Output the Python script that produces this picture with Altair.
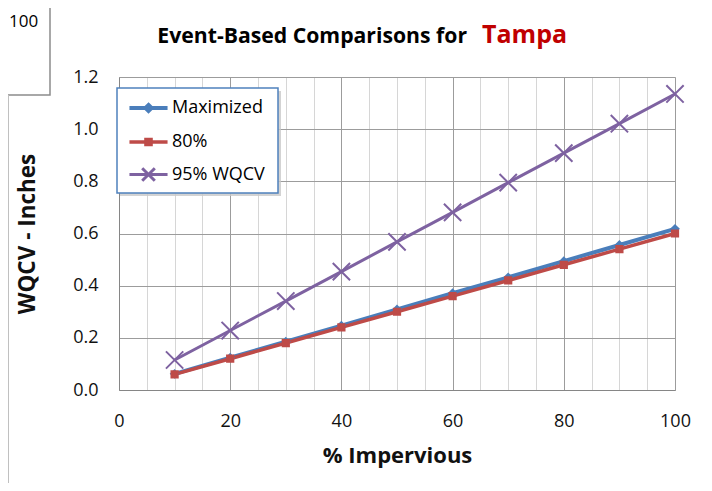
import altair as alt
import pandas as pd

# ---- data ----
pct_impervious = [10, 20, 30, 40, 50, 60, 70, 80, 90, 100]
maximized = [0.062, 0.124, 0.185, 0.247, 0.309, 0.371, 0.432, 0.494, 0.556, 0.618]
pct80 = [0.060, 0.120, 0.180, 0.240, 0.300, 0.360, 0.420, 0.480, 0.540, 0.600]
wqcv95 = [0.115, 0.228, 0.341, 0.454, 0.568, 0.681, 0.795, 0.908, 1.021, 1.135]

series_names = ["Maximized", "80%", "95% WQCV"]
series_colors = ["#4A7EBB", "#BE4B48", "#7E62A1"]
series_widths = [4, 3, 3]
x_grid_values = list(range(0, 101, 5))
y_ticks = [0.0, 0.2, 0.4, 0.6, 0.8, 1.0, 1.2]

FONT = "Open Sans"

rows = []
for name, vals in zip(series_names, [maximized, pct80, wqcv95]):
    for xv, yv in zip(pct_impervious, vals):
        rows.append({"series": name, "x": xv, "y": yv})
df = pd.DataFrame(rows)
one = pd.DataFrame({"k": [0]})

# marker paths (plot) and legend symbol paths (line + marker)
plot_shapes = [
    "M0,-0.4L0.4,0L0,0.4L-0.4,0Z",
    "M-0.36,-0.36H0.36V0.36H-0.36Z",
    "M-1,-1L1,1M-1,1L1,-1",
]
legend_shapes = [
    "M-1.27,0H1.27M0,-0.2L0.2,0L0,0.2L-0.2,0Z",
    "M-1.27,0H1.27M-0.17,-0.17H0.17V0.17H-0.17Z",
    "M-1.27,0H1.27M-0.42,-0.42L0.42,0.42M-0.42,0.42L0.42,-0.42",
]

x_scale = alt.Scale(domain=[0, 100], nice=False)
y_scale = alt.Scale(domain=[0, 1.2], nice=False)
color_scale = alt.Scale(domain=series_names, range=series_colors)

x_axis = alt.Axis(
    values=x_grid_values,
    labelExpr="datum.value % 20 === 0 ? datum.label : ''",
    title="% Impervious",
    titleFont=FONT, titleFontSize=22, titleFontWeight="bold", titleColor="#111",
    titleY=72, titleBaseline="alphabetic",
    labelFont=FONT, labelFontSize=18, labelColor="#111", labelPadding=22,
    ticks=False, tickSize=0,
    domainColor="#868686", domainWidth=1,
    grid=True,
    gridColor={"condition": {"test": "datum.value % 20 === 0", "value": "#9c9c9c"}, "value": "#d6d6d6"},
    gridWidth=1,
    labelFlush=False,
)
y_axis = alt.Axis(
    values=y_ticks, format=".1f",
    title="WQCV - Inches",
    titleFont=FONT, titleFontSize=22.5, titleFontWeight="bold", titleColor="#111",
    titleX=-92, titleY=156.5, titleAngle=-90, titleAlign="center", titleBaseline="middle",
    labelFont=FONT, labelFontSize=18, labelColor="#111", labelPadding=21,
    ticks=False, tickSize=0,
    domainColor="#868686", domainWidth=1,
    grid=True, gridColor="#9c9c9c", gridWidth=1,
)

legend_def = alt.Legend(
    title=None, orient="none", legendX=12.5, legendY=14,
    padding=0, rowPadding=6, symbolSize=900, labelOffset=6.5,
    symbolOpacity=1, symbolStrokeWidth=3,
    labelFont=FONT, labelFontSize=18, labelColor="#000",
)

base = alt.Chart(df).encode(
    x=alt.X("x:Q", scale=x_scale, axis=x_axis),
    y=alt.Y("y:Q", scale=y_scale, axis=y_axis),
)

# invisible layer that only feeds the legend (line + marker symbols)
legend_feed = base.mark_point(filled=True, opacity=0, size=10).encode(
    color=alt.Color("series:N", scale=color_scale, legend=legend_def),
    stroke=alt.Stroke("series:N", scale=color_scale, legend=legend_def),
    shape=alt.Shape("series:N", scale=alt.Scale(domain=series_names, range=legend_shapes), legend=legend_def),
)

lines = base.mark_line().encode(
    color=alt.Color("series:N", scale=color_scale, legend=legend_def),
    strokeWidth=alt.StrokeWidth("series:N", scale=alt.Scale(domain=series_names, range=series_widths), legend=None),
)

# plot markers, one layer per series so each keeps its own marker shape
marker_layers = []
for name, shp in zip(series_names, plot_shapes):
    marker_layers.append(
        base.transform_filter(alt.datum.series == name)
        .mark_point(filled=True, size=300, strokeWidth=2, opacity=1, shape=shp)
        .encode(
            color=alt.Color("series:N", scale=color_scale, legend=legend_def),
            stroke=alt.Stroke("series:N", scale=color_scale, legend=legend_def),
        )
    )

# legend frame + shadow
legend_shadow = alt.Chart(one).mark_rect(color="#c8c8c8", opacity=0.8).encode(
    x=alt.value(1), x2=alt.value(162), y=alt.value(14), y2=alt.value(119)
)
legend_box = alt.Chart(one).mark_rect(fill="white", stroke="#4F81BD", strokeWidth=1.5).encode(
    x=alt.value(-2), x2=alt.value(159), y=alt.value(11), y2=alt.value(116)
)

# two-colour title
title_black = alt.Chart(one).mark_text(
    text="Event-Based Comparisons for", align="right", baseline="alphabetic",
    font=FONT, fontSize=21.2, fontWeight="bold", color="#000"
).encode(x=alt.value(348), y=alt.value(-34))
title_red = alt.Chart(one).mark_text(
    text="Tampa", align="left", baseline="alphabetic",
    font=FONT, fontSize=25, fontWeight="bold", color="#C00000"
).encode(x=alt.value(363), y=alt.value(-34))

# cropped box at the top-left of the screenshot
corner_box = alt.Chart(one).mark_rect(fill="white", stroke="#8c8c8c", strokeWidth=1.5).encode(
    x=alt.value(-130), x2=alt.value(-69), y=alt.value(-90), y2=alt.value(18)
)
corner_text = alt.Chart(one).mark_text(
    text="100", align="left", baseline="middle", font=FONT, fontSize=17, color="#000"
).encode(x=alt.value(-110), y=alt.value(-55))
left_edge = alt.Chart(one).mark_rule(color="#c0c0c0", strokeWidth=1).encode(
    x=alt.value(-110.5), y=alt.value(18), y2=alt.value(420)
)

chart = alt.layer(
    legend_feed, lines, *marker_layers, legend_shadow, legend_box, title_black, title_red,
    corner_box, corner_text, left_edge,
).properties(
    width=556, height=313,
    autosize=alt.AutoSizeParams(type="none"),
    padding={"left": 111, "top": 69, "right": 29, "bottom": 93},
).configure_view(strokeWidth=0).configure(background="white")

chart.save("out.html", embed_options={"renderer": "svg", "actions": False})
